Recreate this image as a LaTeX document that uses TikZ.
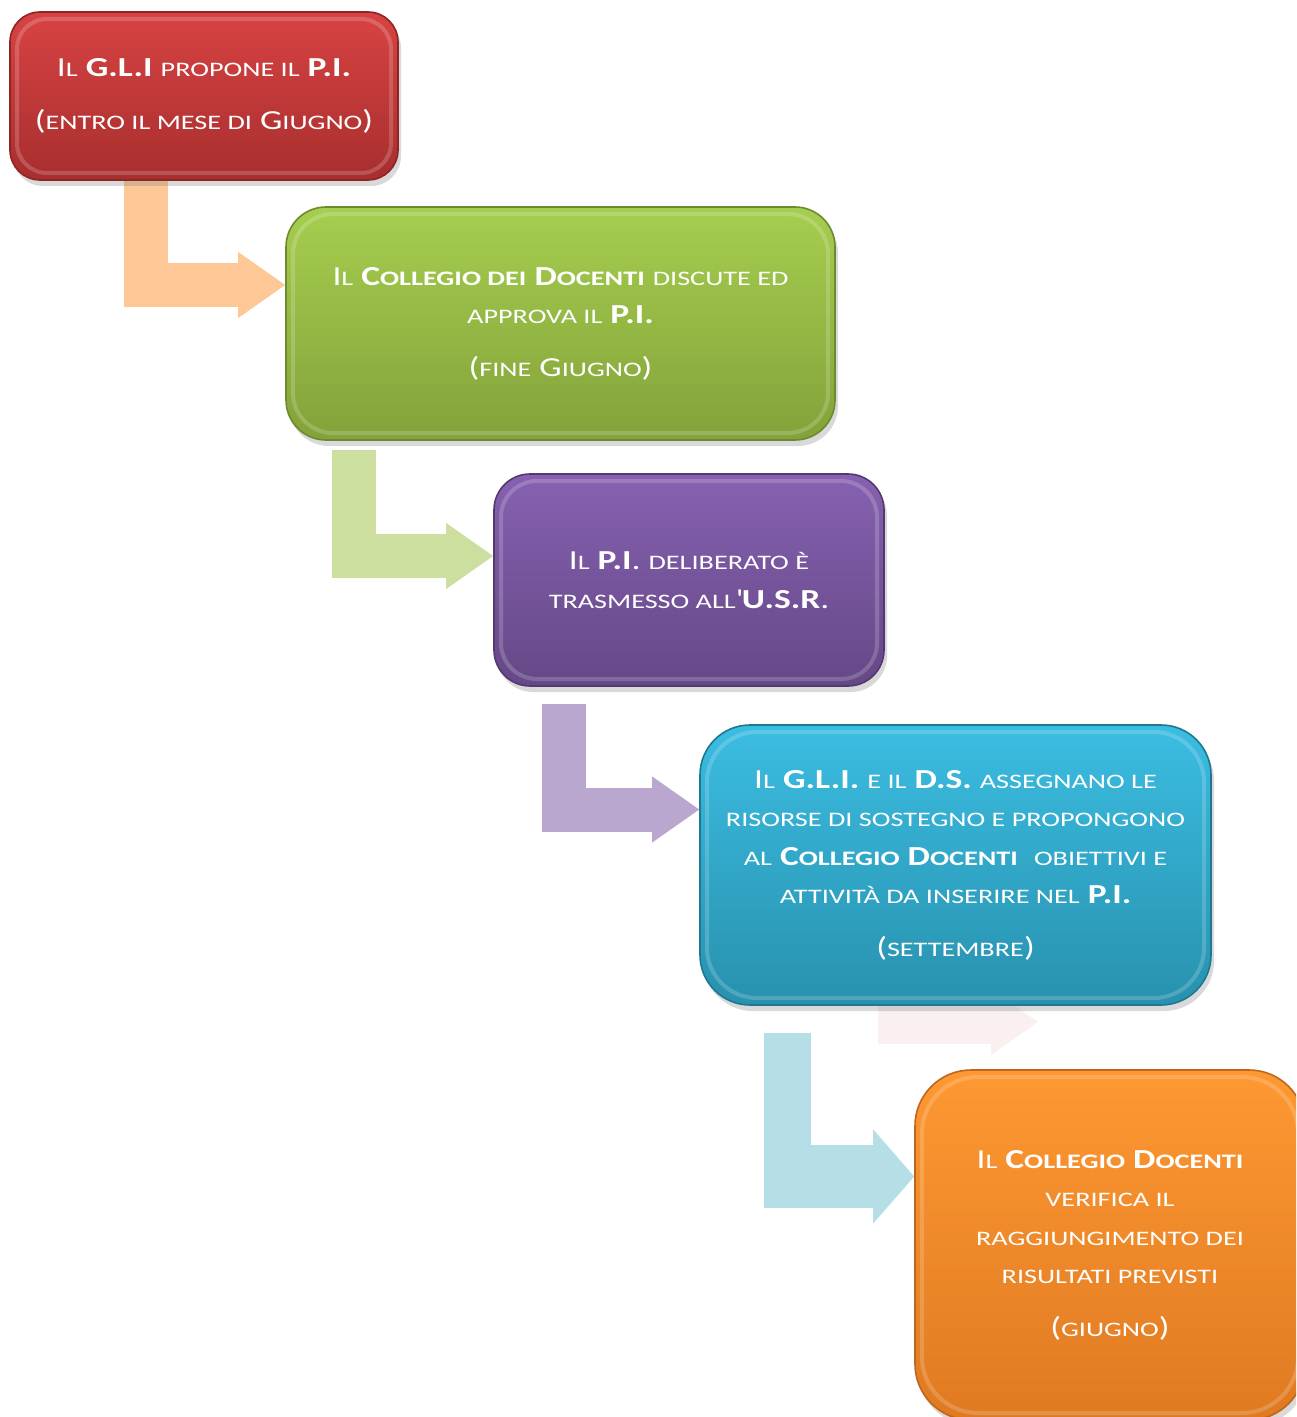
\documentclass[tikz,border=0pt]{standalone}
\usepackage{fontspec}
\setmainfont[FakeStretch=1.29]{Carlito}
\newfontfamily\scfont[FakeStretch=1.37]{Carlito}
\usepackage{tikz}
\usetikzlibrary{arrows.meta,shadows,backgrounds}
\definecolor{redtop}{HTML}{D84343}
\definecolor{redbot}{HTML}{A82E2E}
\definecolor{redrim}{HTML}{8E2525}
\definecolor{grntop}{HTML}{A6CE4F}
\definecolor{grnbot}{HTML}{83A23A}
\definecolor{grnrim}{HTML}{6E8A2E}
\definecolor{purtop}{HTML}{8761B1}
\definecolor{purbot}{HTML}{654887}
\definecolor{purrim}{HTML}{54396F}
\definecolor{blutop}{HTML}{3BBDE2}
\definecolor{blubot}{HTML}{2891AE}
\definecolor{blurim}{HTML}{1F7890}
\definecolor{orgtop}{HTML}{FE9832}
\definecolor{orgbot}{HTML}{DF7A22}
\definecolor{orgrim}{HTML}{C0651A}
\definecolor{peach}{HTML}{FDC896}
\definecolor{lgreen}{HTML}{CDDF9F}
\definecolor{lilac}{HTML}{B9A7D0}
\definecolor{lblue}{HTML}{B6DEE7}
\definecolor{ghost}{HTML}{FBF0F0}
\newcommand\smc[1]{{\scfont\fontsize{10.3pt}{19.25pt}\selectfont #1}}

\begin{document}
\begin{tikzpicture}[x=0.5pt,y=-0.5pt,
	boxst/.style={draw, line width=0.8pt, rounded corners=#1, inner sep=0pt, text=white, align=center,
		font={\fontsize{13.75pt}{19.25pt}\selectfont},
		drop shadow={shadow xshift=1.5pt, shadow yshift=-3pt, opacity=0.3},
		path picture={\draw[white, opacity=0.18, line width=2pt, rounded corners=#1]
			([shift={(3.5pt,-3.5pt)}]path picture bounding box.north west) rectangle
			([shift={(-3.5pt,3.5pt)}]path picture bounding box.south east);}},
	arrowL/.style={line width=22pt, -{Triangle[length=23.5pt, width=33pt, line width=0pt]}}]
	\clip (0,0) rectangle (1296,1417);

	\node [boxst=15pt, top color=redtop, bottom color=redbot, draw=redrim, minimum width=194pt, minimum height=84pt] (red) at (204, 96)
		{I\smc{L} \textbf{G.L.I} \smc{PROPONE IL} \textbf{P.I.}\\[7pt] (\smc{ENTRO IL MESE DI} G\smc{IUGNO})};
	\node [boxst=20pt, top color=grntop, bottom color=grnbot, draw=grnrim, minimum width=274.5pt, minimum height=116.5pt] (green) at (560.5, 323.5)
		{I\smc{L} \textbf{C\smc{OLLEGIO DEI} D\smc{OCENTI}} \smc{DISCUTE ED}\\ \smc{APPROVA IL} \textbf{P.I.}\\[7pt] (\smc{FINE} G\smc{IUGNO})};
	\node [boxst=18pt, top color=purtop, bottom color=purbot, draw=purrim, minimum width=195pt, minimum height=106pt] (purple) at (689, 580)
		{I\smc{L} \textbf{P.I}. \smc{DELIBERATO È}\\ \smc{TRASMESSO ALL}\textquotesingle\textbf{U.S.R}.};
	\node [boxst=25pt, top color=blutop, bottom color=blubot, draw=blurim, minimum width=255.5pt, minimum height=140pt] (blue) at (955.5, 865)
		{I\smc{L} \textbf{G.L.I.} \smc{E IL} \textbf{D.S.} \smc{ASSEGNANO LE}\\ \smc{RISORSE DI SOSTEGNO E PROPONGONO}\\
		 \smc{AL} \textbf{C\smc{OLLEGIO} D\smc{OCENTI}}\ \ \smc{OBIETTIVI E}\\ \smc{ATTIVITÀ DA INSERIRE NEL} \textbf{P.I.}\\[7pt] (\smc{SETTEMBRE})};
	\node [boxst=28pt, top color=orgtop, bottom color=orgbot, draw=orgrim, minimum width=195pt, minimum height=175pt] (orange) at (1110, 1245)
		{I\smc{L} \textbf{C\smc{OLLEGIO} D\smc{OCENTI}}\\ \smc{VERIFICA IL}\\ \smc{RAGGIUNGIMENTO DEI}\\ \smc{RISULTATI PREVISTI}\\[7pt] (\smc{GIUGNO})};

	\begin{scope}[on background layer]
		\coordinate (gs) at (900, 900);
		\coordinate (gt) at (1038, 1022);
		\draw [arrowL, ghost] (gs) |- (gt);

		\draw [arrowL, peach] ([shift={(-58,0)}]red.south) |- ([shift={(0,-38.5)}]green.west);
		\draw [arrowL, lgreen] ([shift={(-206.5,9)}]green.south) |- ([shift={(0,-24)}]purple.west);
		\draw [arrowL, lilac] ([shift={(-125,17)}]purple.south) |- ([shift={(0,-55.5)}]blue.west);

		\coordinate (b4) at ([shift={(-168,27)}]blue.south);
		\coordinate (o4) at ([shift={(0,-68.5)}]orange.west);
		\draw [lblue, line width=23.5pt] (b4) -- (b4 |- 0,1208);
		\draw [lblue, line width=31.5pt, -{Triangle[length=20.5pt, width=47pt, line width=0pt]}] ([shift={(-23.5,0)}]b4 |- o4) -- (o4);
	\end{scope}
\end{tikzpicture}
\end{document}
